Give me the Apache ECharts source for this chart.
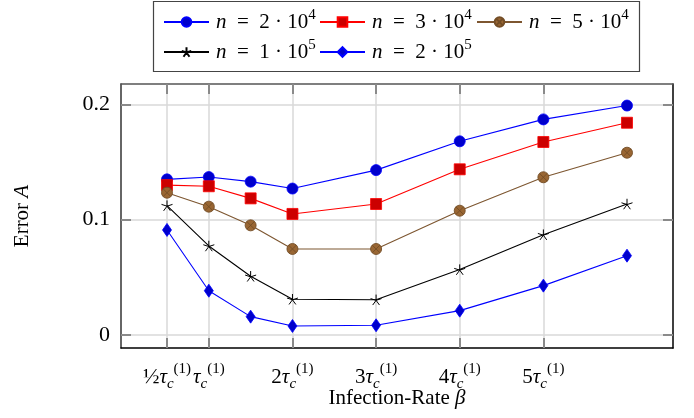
<!DOCTYPE html>
<html><head><meta charset="utf-8">
<script src="https://cdn.jsdelivr.net/npm/echarts@6/dist/echarts.min.js"></script>
<style>html,body{margin:0;padding:0;background:#fff}#c{width:694px;height:418px}</style>
</head><body><div id="c"></div>
<script>
// ---- data ----
const xValues = [0.5, 1, 1.5, 2, 3, 4, 5, 6];
const errN2e4 = [0.135, 0.137, 0.133, 0.127, 0.143, 0.168, 0.187, 0.199];
const errN3e4 = [0.130, 0.129, 0.1185, 0.105, 0.1136, 0.1437, 0.1674, 0.1841];
const errN5e4 = [0.1234, 0.1113, 0.0951, 0.0746, 0.0746, 0.1078, 0.1368, 0.1581];
const errN1e5 = [0.1122, 0.0772, 0.0509, 0.031, 0.0305, 0.0567, 0.087, 0.1136];
const errN2e5 = [0.0911, 0.0384, 0.0159, 0.0078, 0.0084, 0.0211, 0.0428, 0.0688];
const xTickValues = [0.5, 1, 2, 3, 4, 5];
const xTickCoef = ['½', '', '2', '3', '4', '5'];
const yTickValues = [0, 0.1, 0.2];
const yTickLabels = ['0', '0.1', '0.2'];
const legendBase = ['2', '3', '5', '1', '2'];
const legendExp = ['4', '4', '4', '5', '5'];

const FONT = '"Liberation Serif", "DejaVu Serif", serif';
const FS = 21;
const seriesNames = legendBase.map((b, i) => 'n = ' + b + ' · 10^' + legendExp[i]);

function nearestIdx(arr, v) {
  let best = 0;
  arr.forEach((a, i) => { if (Math.abs(a - v) < Math.abs(arr[best] - v)) best = i; });
  return best;
}
function xLabel(v) {
  const c = xTickCoef[nearestIdx(xTickValues, v)];
  let pre = '';
  if (c === '½') pre = '{f|½}';
  else if (c) pre = '{d|' + c + '}';
  return pre + '{t|τ}{s|c}{p|(1)}';
}
const xRich = {
  f: { fontFamily: FONT, fontSize: 22, lineHeight: 30, verticalAlign: 'middle', color: '#000' },
  d: { fontFamily: FONT, fontSize: FS, lineHeight: 30, verticalAlign: 'middle', color: '#000' },
  t: { fontFamily: FONT, fontSize: FS, fontStyle: 'italic', lineHeight: 30, verticalAlign: 'middle', color: '#000' },
  s: { fontFamily: FONT, fontSize: 15, fontStyle: 'italic', lineHeight: 12, verticalAlign: 'bottom', color: '#000' },
  p: { fontFamily: FONT, fontSize: 15, lineHeight: 13, verticalAlign: 'top', color: '#000' }
};
const legRich = {
  i: { fontFamily: FONT, fontSize: FS, fontStyle: 'italic', lineHeight: 28, verticalAlign: 'middle', color: '#000' },
  r: { fontFamily: FONT, fontSize: FS, lineHeight: 28, verticalAlign: 'middle', color: '#000' },
  sup: { fontFamily: FONT, fontSize: 15, lineHeight: 14, verticalAlign: 'top', color: '#000' }
};
function legFmt(name) {
  const i = seriesNames.indexOf(name);
  return '{i|n}{r|  =  ' + legendBase[i] + ' · 10}{sup|' + legendExp[i] + '}';
}

const starPath = 'path://M0 0L0 -10M0 0L9.51 -3.09M0 0L5.88 8.09M0 0L-5.88 8.09M0 0L-9.51 -3.09';
const otimesPath = 'path://M-10 0A10 10 0 1 0 10 0A10 10 0 1 0 -10 0ZM-7.07 -7.07L7.07 7.07M7.07 -7.07L-7.07 7.07';

const seriesStyles = [
  { symbol: 'circle', symbolSize: 11, line: '#0000ff', fill: '#0000cc', border: '#0000ff', bw: 0.8 },
  { symbol: 'rect', symbolSize: 11, line: '#ff0000', fill: '#cc0000', border: '#ff0000', bw: 0.8 },
  { symbol: otimesPath, symbolSize: 11, line: '#7d5630', fill: '#996633', border: '#734d26', bw: 0.9 },
  { symbol: starPath, symbolSize: 11, line: '#000000', fill: '#000000', border: '#000000', bw: 1 },
  { symbol: 'diamond', symbolSize: [9, 13], line: '#0000ff', fill: '#0000cc', border: '#0000ff', bw: 0.8 }
];
const seriesData = [errN2e4, errN3e4, errN5e4, errN1e5, errN2e5];

const series = seriesData.map((arr, k) => {
  const s = seriesStyles[k];
  return {
    type: 'line', name: seriesNames[k],
    data: xValues.map((x, i) => [x, arr[i]]),
    symbol: s.symbol, symbolSize: s.symbolSize, symbolKeepAspect: true,
    showAllSymbol: true,
    lineStyle: { color: s.line, width: 1.1 },
    itemStyle: { color: s.fill, borderColor: s.border, borderWidth: s.bw },
    emphasis: { disabled: true },
    z: 3 + k
  };
});

const legendPos = [[163, 8], [319, 8], [476, 8], [163, 38], [319, 38]];
const legends = seriesNames.map((nm, i) => ({
  data: [nm], left: legendPos[i][0], top: legendPos[i][1],
  padding: 0, itemWidth: 45, itemHeight: 12, itemGap: 0,
  selectedMode: false, formatter: legFmt,
  textStyle: { fontFamily: FONT, fontSize: FS, color: '#000', rich: legRich, padding: [0, 0, 0, 2] }
}));

const tickStyle = { color: '#8a8a8a', width: 2 };
const gridStyle = { color: '#d9d9d9', width: 1.5 };

const option = {
  animation: false,
  backgroundColor: '#fff',
  graphic: [{ type: 'rect', z: 0, shape: { x: 153.5, y: 1.5, width: 486, height: 70 },
    style: { fill: '#fff', stroke: '#444', lineWidth: 1.2 } }],
  legend: legends,
  grid: { left: 121, right: 21, top: 84, bottom: 70, containLabel: false, outerBoundsMode: 'none' },
  xAxis: [{
    type: 'value', position: 'bottom', min: -0.05, max: 6.55,
    axisLine: { show: true, onZero: false, lineStyle: { color: '#000', width: 1.5 } },
    axisTick: { show: true, inside: true, length: 10, customValues: xTickValues, lineStyle: tickStyle },
    axisLabel: { show: true, customValues: xTickValues, formatter: xLabel, margin: 14, rich: xRich, color: '#000' },
    splitLine: { show: true, lineStyle: gridStyle },
    name: 'Infection-Rate {i|β}', nameLocation: 'middle', nameGap: 40, nameMoveOverlap: false,
    nameTextStyle: { fontFamily: FONT, fontSize: FS, color: '#000',
      rich: { i: { fontFamily: FONT, fontSize: FS, fontStyle: 'italic', color: '#000' } } }
  }, {
    type: 'value', position: 'top', min: -0.05, max: 6.55,
    axisLine: { show: true, onZero: false, lineStyle: { color: '#555', width: 1.5 } },
    axisTick: { show: true, inside: true, length: 10, customValues: xTickValues, lineStyle: tickStyle },
    axisLabel: { show: false }, splitLine: { show: false }
  }],
  yAxis: [{
    type: 'value', position: 'left', min: -0.0113, max: 0.2177,
    axisLine: { show: true, onZero: false, lineStyle: { color: '#333', width: 1.5 } },
    axisTick: { show: true, inside: true, length: 10, customValues: yTickValues, lineStyle: tickStyle },
    axisLabel: { show: true, customValues: yTickValues, margin: 11, color: '#000', fontFamily: FONT, fontSize: 22,
      formatter: v => yTickLabels[nearestIdx(yTickValues, v)] },
    splitLine: { show: true, lineStyle: gridStyle },
    name: 'Error {i|A}', nameLocation: 'middle', nameGap: 88, nameMoveOverlap: false,
    nameTextStyle: { fontFamily: FONT, fontSize: FS, color: '#000',
      rich: { i: { fontFamily: FONT, fontSize: FS, fontStyle: 'italic', color: '#000' } } }
  }, {
    type: 'value', position: 'right', min: -0.0113, max: 0.2177,
    axisLine: { show: true, onZero: false, lineStyle: { color: '#000', width: 1.5 } },
    axisTick: { show: true, inside: true, length: 10, customValues: yTickValues, lineStyle: tickStyle },
    axisLabel: { show: false }, splitLine: { show: false }
  }],
  series: series
};
const chart = echarts.init(document.getElementById('c'), null, { renderer: 'canvas' });
chart.setOption(option);
</script>
</body></html>
